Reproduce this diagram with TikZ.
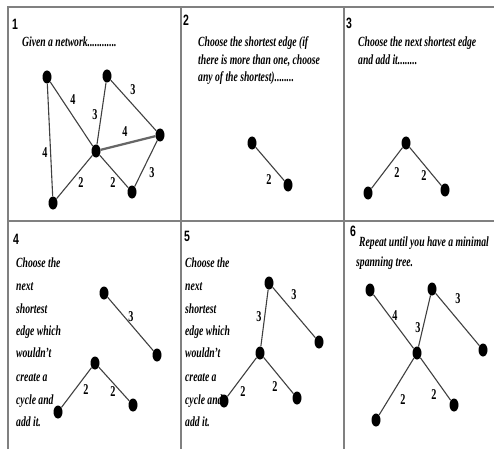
\documentclass[tikz,border=0pt]{standalone}
\usepackage{fontspec}
\usetikzlibrary{shapes.geometric}
\newfontfamily\txtfont[FakeStretch=0.69]{Liberation Serif}
\newfontfamily\numfont[FakeStretch=0.7]{Liberation Sans}
\newfontfamily\labfont[FakeStretch=0.68]{Liberation Serif}
\begin{document}
\begin{tikzpicture}[x=1pt,y=-1pt,
  grid/.style={draw=black!50,line width=1.4pt},
  dot/.style={ellipse,fill=black,draw=none,minimum width=9pt,minimum height=13pt,inner sep=0pt},
  edge/.style={draw=black!75,line width=1.1pt},
  thickedge/.style={draw=black!60,line width=2.2pt},
  lab/.style={font=\labfont\bfseries\fontsize{15}{15}\selectfont,inner sep=0pt},
  pnum/.style={font=\numfont\bfseries\fontsize{15}{15}\selectfont,inner sep=0pt,anchor=base west},
  txt/.style={font=\txtfont\itshape\bfseries\fontsize{14}{14}\selectfont,inner sep=0pt,anchor=base west}
]
\useasboundingbox (0,0) rectangle (494,449);
% grid
\coordinate (g1) at (8,449);
\coordinate (g2) at (8,7);
\coordinate (g3) at (494,7);
\coordinate (g4) at (8,221);
\coordinate (g5) at (494,221);
\coordinate (g6) at (181,7);
\coordinate (g7) at (181,449);
\coordinate (g8) at (344,7);
\coordinate (g9) at (344,449);
\draw[grid] (g1) -- (g2) -- (g3);
\draw[grid] (g4) -- (g5);
\draw[grid] (g6) -- (g7);
\draw[grid] (g8) -- (g9);

% panel numbers
\node[pnum] (n1) at (12,30) {1};
\node[pnum] (n2) at (183,26) {2};
\node[pnum] (n3) at (346,29) {3};
\node[pnum] (n4) at (13,244) {4};
\node[pnum] (n5) at (184,241) {5};
\node[pnum] (n6) at (350,236) {6};

% texts
\node[txt] (t1) at (22,47) {Given a network............};
\node[txt] (t2a) at (198,47) {Choose the shortest edge (if};
\node[txt] (t2b) at (198,65) {there is more than one, choose};
\node[txt] (t2c) at (198,82) {any of the shortest)........};
\node[txt] (t3a) at (358,47) {Choose the next shortest edge};
\node[txt] (t3b) at (358,65) {and add it........};
\foreach \p/\x in {4/16,5/185}{
  \node[txt] (t\p a) at (\x,267) {Choose the};
  \node[txt] (t\p b) at (\x,290) {next};
  \node[txt] (t\p c) at (\x,313) {shortest};
  \node[txt] (t\p d) at (\x,335) {edge which};
  \node[txt] (t\p e) at (\x,357) {wouldn’t};
  \node[txt] (t\p f) at (\x,381) {create a};
  \node[txt] (t\p g) at (\x,404) {cycle and};
  \node[txt] (t\p h) at (\x,426) {add it.};
}
\node[txt] (t6a) at (359,246) {Repeat until you have a minimal};
\node[txt] (t6b) at (356,266) {spanning tree.};

% panel 1
\node[dot] (a1) at (47,77) {};
\node[dot] (b1) at (107,76) {};
\node[dot] (c1) at (96,151) {};
\node[dot] (d1) at (160,135) {};
\node[dot] (e1) at (132,192) {};
\node[dot] (f1) at (53,203) {};
\draw[edge] (a1) -- (c1);
\draw[edge] (a1) -- (f1);
\draw[edge] (b1) -- (c1);
\draw[edge] (b1) -- (d1);
\draw[thickedge] (c1) -- (d1);
\draw[edge] (c1) -- (e1);
\draw[edge] (c1) -- (f1);
\draw[edge] (e1) -- (d1);
\node[lab] (l1a) at (73,100) {4};
\node[lab] (l1b) at (95,115) {3};
\node[lab] (l1c) at (133,90) {3};
\node[lab] (l1d) at (125,132) {4};
\node[lab] (l1e) at (45,153) {4};
\node[lab] (l1f) at (81,183) {2};
\node[lab] (l1g) at (113,183) {2};
\node[lab] (l1h) at (152,173) {3};

% panel 2
\node[dot] (a2) at (252,143) {};
\node[dot] (b2) at (288,185) {};
\draw[edge] (a2) -- (b2);
\node[lab] (l2a) at (269,180) {2};

% panel 3
\node[dot] (a3) at (406,143) {};
\node[dot] (b3) at (368,193) {};
\node[dot] (c3) at (445,190) {};
\draw[edge] (a3) -- (b3);
\draw[edge] (a3) -- (c3);
\node[lab] (l3a) at (397,173) {2};
\node[lab] (l3b) at (424,176) {2};

% panel 4
\node[dot] (a4) at (104,293) {};
\node[dot] (b4) at (157,355) {};
\node[dot] (c4) at (95,363) {};
\node[dot] (d4) at (58,412) {};
\node[dot] (e4) at (133,405) {};
\draw[edge] (a4) -- (b4);
\draw[edge] (c4) -- (d4);
\draw[edge] (c4) -- (e4);
\node[lab] (l4a) at (131,317) {3};
\node[lab] (l4b) at (86,390) {2};
\node[lab] (l4c) at (113,392) {2};

% panel 5
\node[dot] (a5) at (269,283) {};
\node[dot] (b5) at (319,342) {};
\node[dot] (c5) at (260,353) {};
\node[dot] (d5) at (224,401) {};
\node[dot] (e5) at (297,398) {};
\draw[edge] (a5) -- (b5);
\draw[edge] (a5) -- (c5);
\draw[edge] (c5) -- (d5);
\draw[edge] (c5) -- (e5);
\node[lab] (l5a) at (294,295) {3};
\node[lab] (l5b) at (259,317) {3};
\node[lab] (l5c) at (243,392) {2};
\node[lab] (l5d) at (275,387) {2};

% panel 6
\node[dot] (a6) at (370,290) {};
\node[dot] (b6) at (432,289) {};
\node[dot] (c6) at (483,350) {};
\node[dot] (d6) at (417,353) {};
\node[dot] (e6) at (376,420) {};
\node[dot] (f6) at (454,405) {};
\draw[edge] (a6) -- (d6);
\draw[edge] (b6) -- (c6);
\draw[edge] (b6) -- (d6);
\draw[edge] (d6) -- (e6);
\draw[edge] (d6) -- (f6);
\node[lab] (l6a) at (395,316) {4};
\node[lab] (l6b) at (418,328) {3};
\node[lab] (l6c) at (458,299) {3};
\node[lab] (l6d) at (403,400) {2};
\node[lab] (l6e) at (434,395) {2};
\end{tikzpicture}
\end{document}
